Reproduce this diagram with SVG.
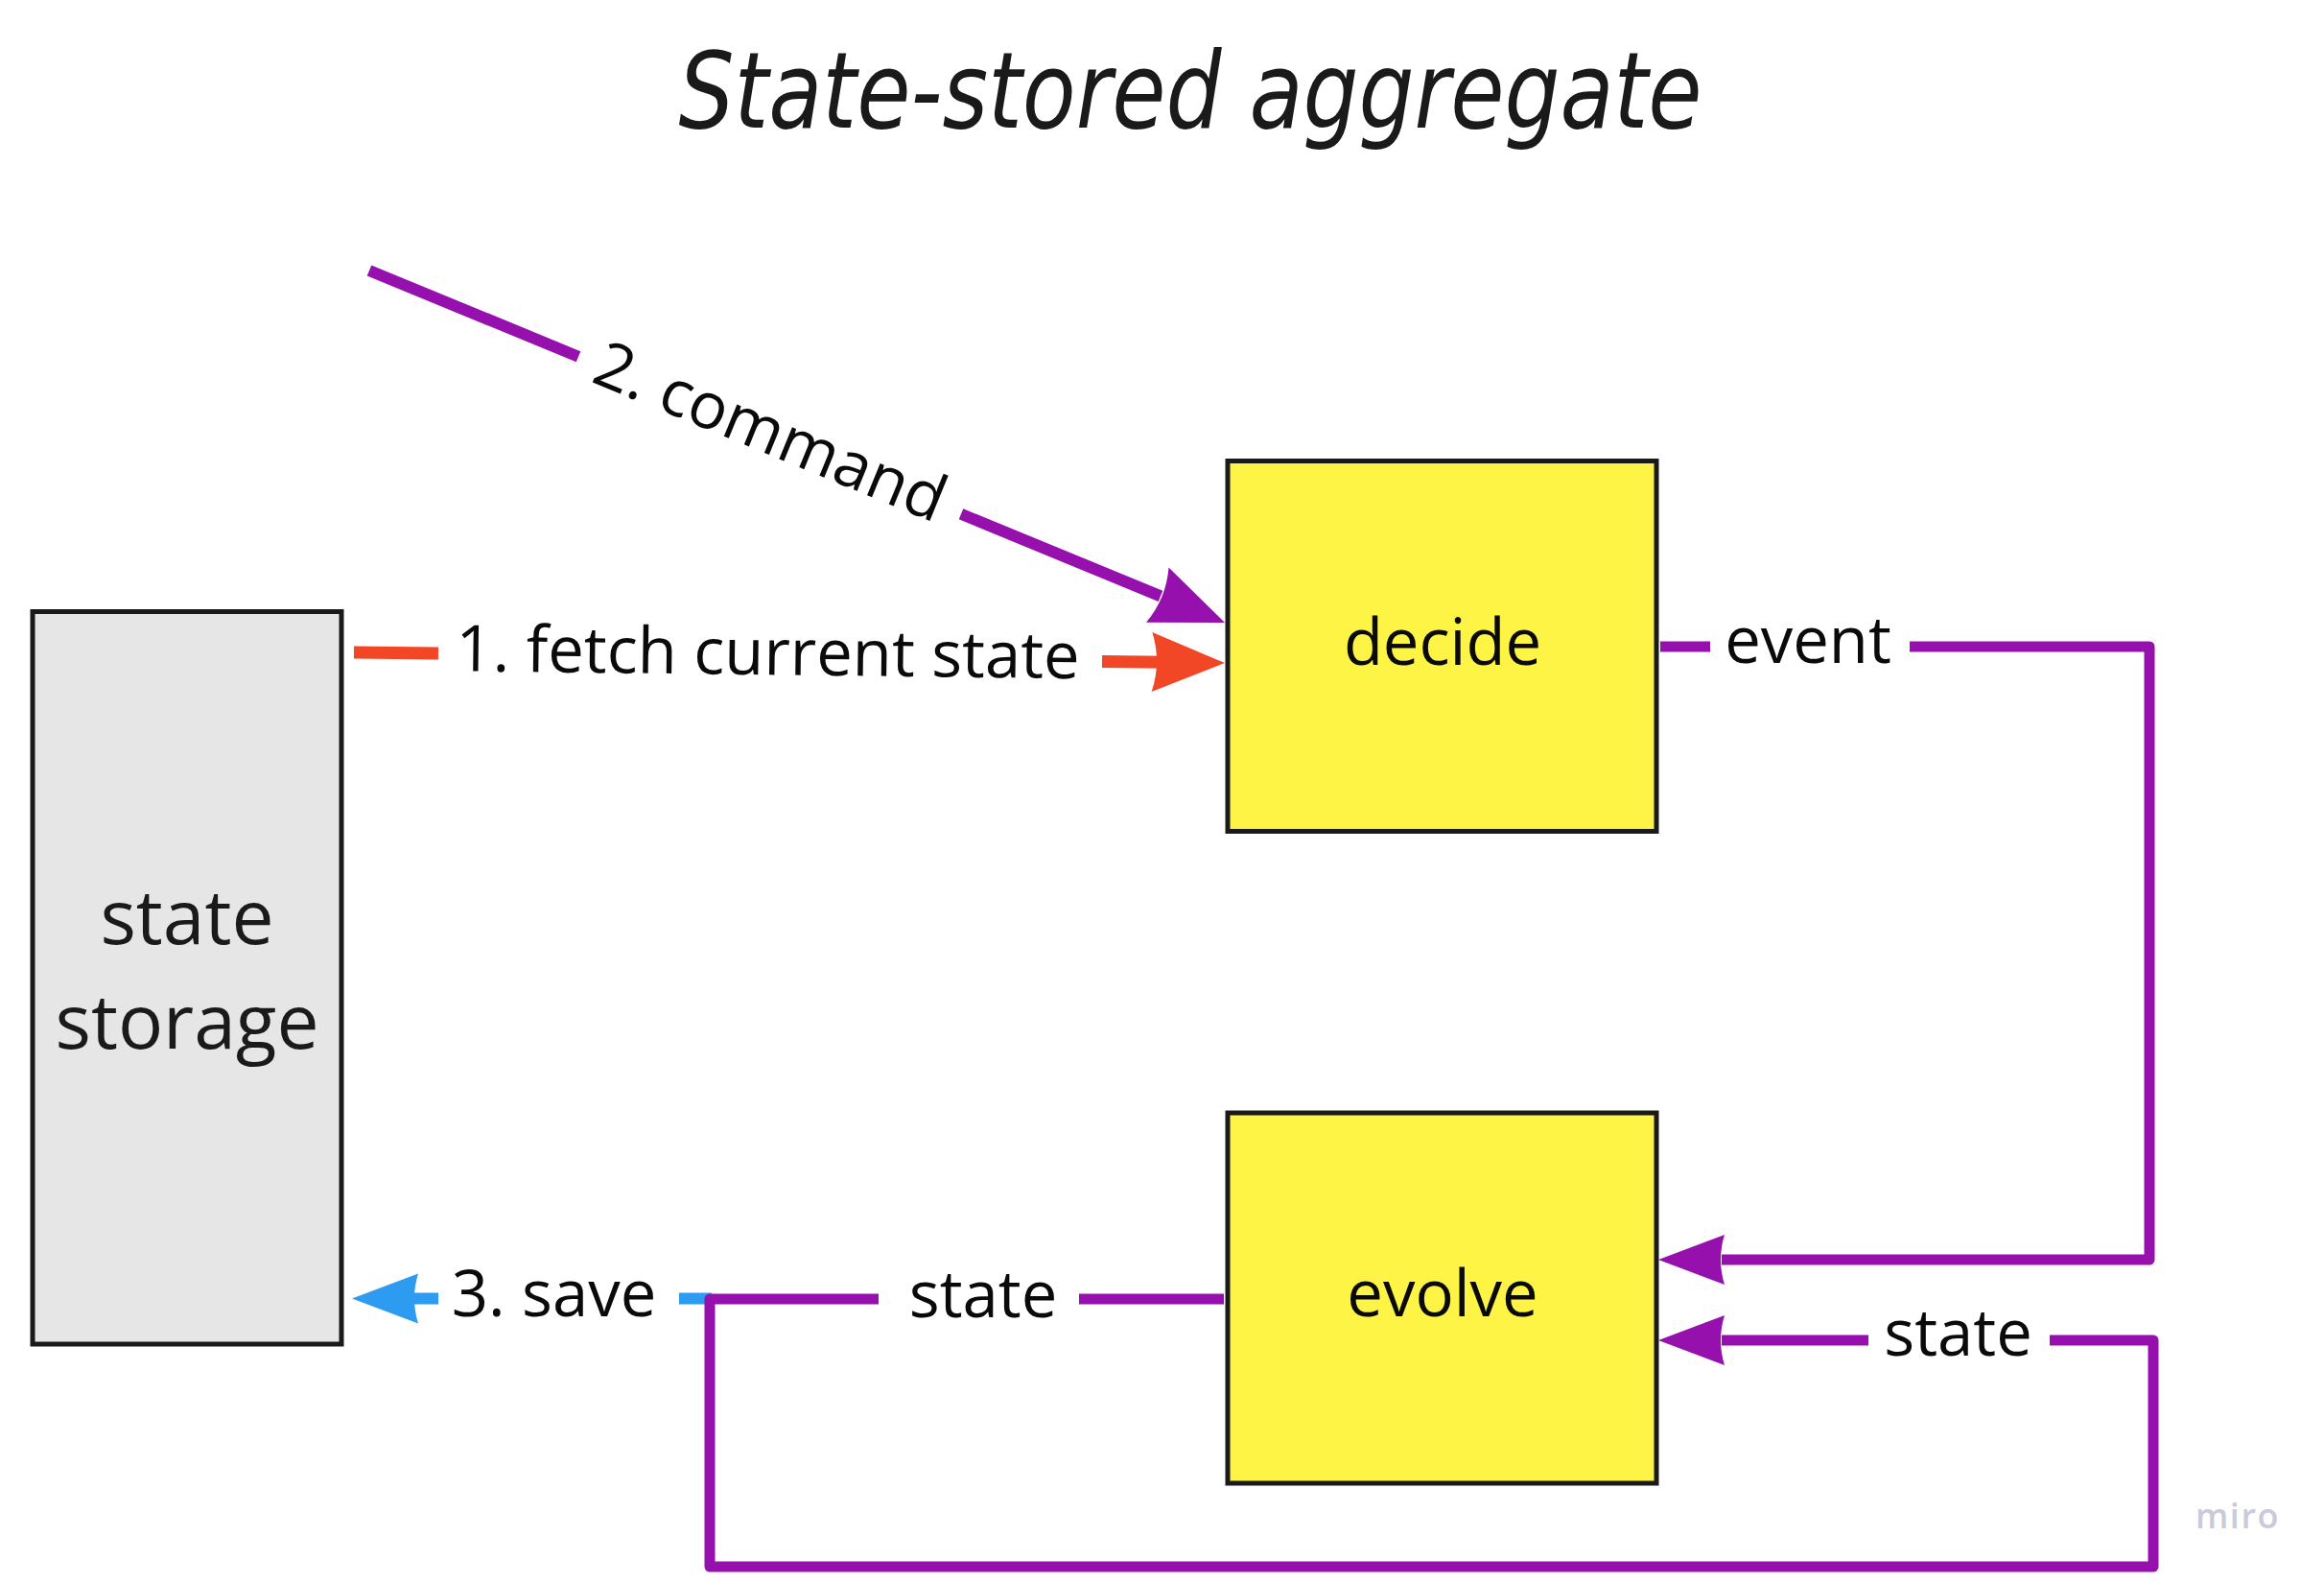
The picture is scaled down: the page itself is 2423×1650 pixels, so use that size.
<svg xmlns="http://www.w3.org/2000/svg" xmlns:xlink="http://www.w3.org/1999/xlink" width="2423" height="1650" viewBox="0 0 2423 1650">
  <style>
    .box { stroke: #1a1a1a; stroke-width: 5; }
    .sticky { fill: #fef445; }
    .store { fill: #e6e6e6; }
    .lbl { font-family: "Open Sans", "Noto Sans", "Liberation Sans", sans-serif; font-size: 67px; fill: #0a0a0a; text-anchor: middle; }
    .big { font-size: 78.5px; fill: #1a1a1a; }
    .title { font-family: "Liberation Sans Narrow", "DejaVu Sans Condensed", "Liberation Sans", sans-serif; font-style: italic; font-size: 110px; fill: #1a1a1a; text-anchor: middle; }
    .ln { fill: none; stroke-linecap: butt; stroke-linejoin: round; }
    .red { stroke: #f24726; stroke-width: 13; }
    .pur { stroke: #9510ac; stroke-width: 11; }
    .purw { stroke: #9510ac; stroke-width: 12; }
    .blu { stroke: #2d9bf0; stroke-width: 12; }
    .fr { fill: #f24726; }
    .fp { fill: #9510ac; }
    .fb { fill: #2d9bf0; }
    .miro { font-family: "Open Sans", "Noto Sans", sans-serif; font-weight: 600; font-size: 36px; fill: #cacad8; letter-spacing: 1.5px; }
  </style>
  <defs>
    <path id="headL" d="M0,0 L-76,-31 Q-66,0 -76,31 Z"/>
    <path id="headS" d="M0,0 L-69,-26 Q-61,0 -69,26 Z"/>
  </defs>
  <rect width="2423" height="1650" fill="#ffffff"/>

  <text class="title" x="1241" y="133" textLength="1067" lengthAdjust="spacingAndGlyphs">State-stored aggregate</text>

  <g id="connectors">
    <!-- 1. fetch current state -->
    <g id="c-fetch">
      <line class="ln red" x1="369" y1="680" x2="457" y2="681.1"/>
      <line class="ln red" x1="1149" y1="689.5" x2="1215" y2="690.3"/>
      <use xlink:href="#headL" class="fr" transform="translate(1277,691) rotate(0.69)"/>
      <text class="lbl" transform="translate(800.5,685.2) rotate(0.69)" y="18">1. fetch current state</text>
    </g>
    <!-- 2. command -->
    <g id="c-command">
      <line class="ln purw" x1="385" y1="282" x2="603" y2="371.7"/>
      <line class="ln purw" x1="1002" y1="535.8" x2="1210" y2="621.4"/>
      <use xlink:href="#headL" class="fp" transform="translate(1277,649) rotate(22.36)"/>
      <text class="lbl" transform="translate(802,453.6) rotate(22.36)" y="19">2. command</text>
    </g>
    <!-- event -->
    <g id="c-event">
      <line class="ln pur" x1="1731" y1="674" x2="1783" y2="674"/>
      <path class="ln pur" d="M1991,674 L2241,674 L2241,1313 L1795,1313"/>
      <use xlink:href="#headS" class="fp" transform="translate(1729,1313) rotate(180)"/>
      <text class="lbl" x="1885" y="691">event</text>
    </g>
    <!-- 3. save -->
    <g id="c-save">
      <line class="ln blu" x1="708" y1="1353.5" x2="742" y2="1353.5"/>
      <line class="ln blu" x1="457" y1="1353.5" x2="432" y2="1353.5"/>
      <use xlink:href="#headS" class="fb" transform="translate(367,1353.5) rotate(180)"/>
      <text class="lbl" x="577.5" y="1372">3. save</text>
    </g>
    <!-- state loop -->
    <g id="c-state">
      <line class="ln pur" x1="1276" y1="1354" x2="1125" y2="1354"/>
      <path class="ln pur" d="M916,1354 L740,1354 L740,1633 L2245,1633 L2245,1397 L2137,1397"/>
      <line class="ln pur" x1="1948" y1="1397" x2="1795" y2="1397"/>
      <use xlink:href="#headS" class="fp" transform="translate(1729,1397) rotate(180)"/>
      <text class="lbl" x="1025" y="1373">state</text>
      <text class="lbl" x="2041.5" y="1413">state</text>
    </g>
  </g>

  <g id="node-storage">
    <rect class="box store" x="34" y="637.5" width="322" height="763.5"/>
    <text class="lbl big" x="195" y="984">state</text>
    <text class="lbl big" x="195" y="1093">storage</text>
  </g>
  <g id="node-decide">
    <rect class="box sticky" x="1280" y="480.5" width="447" height="386"/>
    <text class="lbl" x="1504" y="693">decide</text>
  </g>
  <g id="node-evolve">
    <rect class="box sticky" x="1280" y="1160" width="447" height="386"/>
    <text class="lbl" x="1504" y="1372">evolve</text>
  </g>

  <text class="miro" x="2289" y="1593">miro</text>
</svg>
